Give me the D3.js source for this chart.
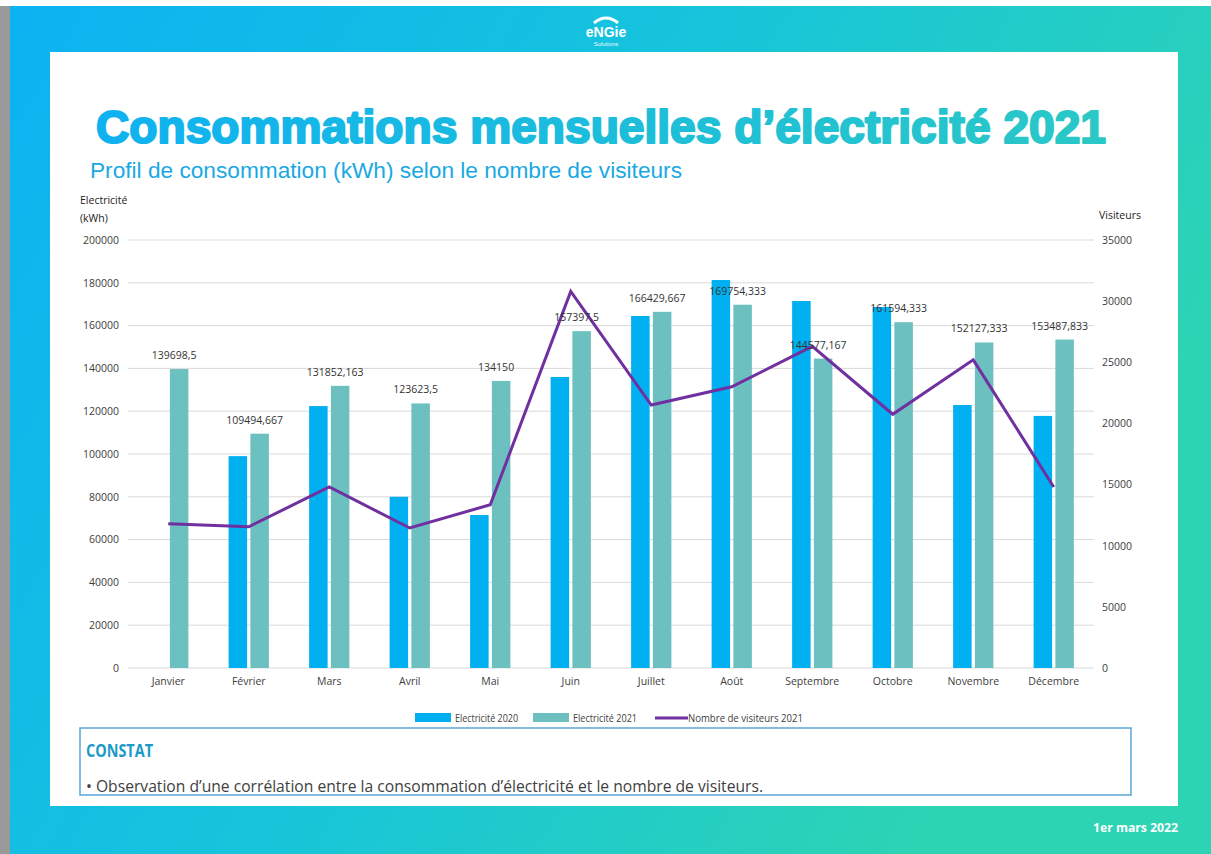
<!DOCTYPE html>
<html>
<head>
<meta charset="utf-8">
<script src="https://cdn.jsdelivr.net/npm/d3@7"></script>
<style>
  body { margin: 0; background: #fff; }
  svg { display: block; }
</style>
</head>
<body>
<script>
// data
var months = ["Janvier", "Février", "Mars", "Avril", "Mai", "Juin", "Juillet", "Août", "Septembre", "Octobre", "Novembre", "Décembre"];
var elec2020 = [null, 99000, 122400, 80000, 71500, 136000, 164500, 181300, 171500, 168700, 122900, 117800];
var elec2021 = [139698.5, 109494.667, 131852.163, 123623.5, 134150, 157397.5, 166429.667, 169754.333, 144577.167, 161594.333, 152127.333, 153487.833];
var labels2021 = ["139698,5", "109494,667", "131852,163", "123623,5", "134150", "157397,5", "166429,667", "169754,333", "144577,167", "161594,333", "152127,333", "153487,833"];
var visiteurs = [11800, 11550, 14800, 11450, 13350, 30800, 21500, 23000, 26300, 20750, 25200, 14800];
var leftTicks = [0, 20000, 40000, 60000, 80000, 100000, 120000, 140000, 160000, 180000, 200000];
var rightTicks = [0, 5000, 10000, 15000, 20000, 25000, 30000, 35000];
var series = ["Electricité 2020", "Electricité 2021", "Nombre de visiteurs 2021"];

var W = 1211, H = 854;
var blue = "#00b0f0", teal = "#6cc0bf", purple = "#7030a0";
var chartFont = "'Open Sans', sans-serif";

var svg = d3.select("body").append("svg").attr("width", W).attr("height", H);
var defs = svg.append("defs");

var bg = defs.append("linearGradient").attr("id", "bg")
  .attr("x1", "0").attr("y1", "0").attr("x2", "1").attr("y2", "0.4");
bg.append("stop").attr("offset", "0").attr("stop-color", "#0cb2f2");
bg.append("stop").attr("offset", "0.5").attr("stop-color", "#16c4dc");
bg.append("stop").attr("offset", "1").attr("stop-color", "#2dd4b3");

var tg = defs.append("linearGradient").attr("id", "titleGrad")
  .attr("x1", "0").attr("y1", "0").attr("x2", "1").attr("y2", "0");
tg.append("stop").attr("offset", "0").attr("stop-color", "#0fb2f0");
tg.append("stop").attr("offset", "1").attr("stop-color", "#2ac8c6");

// frame
svg.append("rect").attr("x", 0).attr("y", 6).attr("width", 10).attr("height", H - 6).attr("fill", "#9a9a9a");
svg.append("rect").attr("x", 10).attr("y", 6).attr("width", W - 10).attr("height", H - 6).attr("fill", "url(#bg)");
svg.append("rect").attr("x", 50).attr("y", 52).attr("width", 1128).attr("height", 754).attr("fill", "#fff");

// logo
var logo = svg.append("g").attr("transform", "translate(606,0)");
logo.append("path").attr("d", "M-12,23 Q0,13 12,23").attr("fill", "none").attr("stroke", "#fff").attr("stroke-width", 3);
logo.append("text").attr("y", 37).attr("text-anchor", "middle").attr("fill", "#fff")
  .style("font", "bold 14px 'Liberation Sans', sans-serif").text("eNGie");
logo.append("text").attr("y", 46).attr("text-anchor", "middle").attr("fill", "#e8f8ff")
  .style("font", "6px 'Liberation Sans', sans-serif").text("Solutions");

// titles
svg.append("text").attr("x", 96).attr("y", 143).attr("fill", "url(#titleGrad)")
  .attr("stroke", "url(#titleGrad)").attr("stroke-width", 2.2).attr("stroke-linejoin", "round")
  .attr("textLength", 1010).attr("lengthAdjust", "spacingAndGlyphs")
  .style("font", "bold 46px 'Liberation Sans', Arial, sans-serif")
  .text("Consommations mensuelles d’électricité 2021");
svg.append("text").attr("x", 90).attr("y", 178).attr("fill", "#19a9e2")
  .attr("textLength", 592).attr("lengthAdjust", "spacingAndGlyphs")
  .style("font", "22px 'Liberation Sans', Arial, sans-serif")
  .text("Profil de consommation (kWh) selon le nombre de visiteurs");

// scales
var x0 = d3.scaleBand().domain(months).range([128, 1094]).paddingInner(0.5).paddingOuter(0.25);
var x1 = d3.scaleBand().domain([0, 1]).range([0, x0.bandwidth()]).paddingInner(0.15);
var y = d3.scaleLinear().domain([0, 200000]).range([668, 240]);
var y2 = d3.scaleLinear().domain([0, 35000]).range([668, 240]);

// grid
svg.append("g").selectAll("line").data(leftTicks).join("line")
  .attr("x1", 128).attr("x2", 1094)
  .attr("y1", function(d) { return y(d); }).attr("y2", function(d) { return y(d); })
  .attr("stroke", "#d9d9d9").attr("stroke-width", 1);

// axes
var axL = svg.append("g").attr("transform", "translate(119,0)")
  .call(d3.axisLeft(y).tickValues(leftTicks).tickSize(0).tickPadding(0).tickFormat(d3.format("d")));
var axR = svg.append("g").attr("transform", "translate(1102,0)")
  .call(d3.axisRight(y2).tickValues(rightTicks).tickSize(0).tickPadding(0).tickFormat(d3.format("d")));
var axB = svg.append("g").attr("transform", "translate(0,676)")
  .call(d3.axisBottom(x0).tickSize(0).tickPadding(0));
[axL, axR, axB].forEach(function(a) {
  a.select(".domain").remove();
  a.selectAll("text").attr("fill", "#404040").style("font", "10.5px " + chartFont);
});
axB.selectAll("text").attr("dy", "0.9em");

svg.append("text").attr("x", 80).attr("y", 204).attr("fill", "#222").style("font", "10.5px " + chartFont).text("Electricité");
svg.append("text").attr("x", 80).attr("y", 222).attr("fill", "#222").style("font", "10.5px " + chartFont).text("(kWh)");
svg.append("text").attr("x", 1099).attr("y", 219).attr("fill", "#222").style("font", "10.5px " + chartFont).text("Visiteurs");

// bars
var groups = svg.append("g").selectAll("g").data(months).join("g")
  .attr("transform", function(d) { return "translate(" + x0(d) + ",0)"; });
groups.filter(function(d, i) { return elec2020[i] != null; }).append("rect")
  .attr("x", x1(0)).attr("width", x1.bandwidth())
  .attr("y", function(d) { return y(elec2020[months.indexOf(d)]); })
  .attr("height", function(d) { return 668 - y(elec2020[months.indexOf(d)]); })
  .attr("fill", blue);
groups.append("rect")
  .attr("x", x1(1)).attr("width", x1.bandwidth())
  .attr("y", function(d, i) { return y(elec2021[i]); })
  .attr("height", function(d, i) { return 668 - y(elec2021[i]); })
  .attr("fill", teal);

// line
var line = d3.line()
  .x(function(d, i) { return x0(months[i]) + x0.bandwidth() / 2; })
  .y(function(d) { return y2(d); });
svg.append("path").datum(visiteurs).attr("d", line)
  .attr("fill", "none").attr("stroke", purple).attr("stroke-width", 3).attr("stroke-linejoin", "miter");

// data labels
svg.append("g").selectAll("text").data(labels2021).join("text")
  .attr("x", function(d, i) { return x0(months[i]) + x1(1) + x1.bandwidth() / 2 - 5; })
  .attr("y", function(d, i) { return y(elec2021[i]) - 10; })
  .attr("text-anchor", "middle").attr("fill", "#333")
  .style("font", "10.5px " + chartFont).text(function(d) { return d; });

// legend
var leg = svg.append("g").attr("transform", "translate(0,718)");
leg.append("rect").attr("x", 415).attr("y", -5).attr("width", 36).attr("height", 9).attr("fill", blue);
leg.append("text").attr("x", 455).attr("y", 4).attr("fill", "#404040")
  .attr("textLength", 63).attr("lengthAdjust", "spacingAndGlyphs")
  .style("font", "10.5px " + chartFont).text(series[0]);
leg.append("rect").attr("x", 533).attr("y", -5).attr("width", 36).attr("height", 9).attr("fill", teal);
leg.append("text").attr("x", 573).attr("y", 4).attr("fill", "#404040")
  .attr("textLength", 64).attr("lengthAdjust", "spacingAndGlyphs")
  .style("font", "10.5px " + chartFont).text(series[1]);
leg.append("line").attr("x1", 655).attr("x2", 688).attr("y1", 0).attr("y2", 0).attr("stroke", purple).attr("stroke-width", 3);
leg.append("text").attr("x", 688).attr("y", 4).attr("fill", "#404040")
  .attr("textLength", 115).attr("lengthAdjust", "spacingAndGlyphs")
  .style("font", "10.5px " + chartFont).text(series[2]);

// constat box
svg.append("rect").attr("x", 80).attr("y", 728).attr("width", 1051).attr("height", 67)
  .attr("fill", "#fff").attr("stroke", "#5aa6d6").attr("stroke-width", 1.5);
svg.append("text").attr("x", 86).attr("y", 757).attr("fill", "#1a9ac8")
  .attr("textLength", 67).attr("lengthAdjust", "spacingAndGlyphs")
  .style("font", "bold 18px " + chartFont).text("CONSTAT");
svg.append("text").attr("x", 86).attr("y", 792).attr("fill", "#404040")
  .attr("textLength", 677).attr("lengthAdjust", "spacingAndGlyphs")
  .style("font", "16px " + chartFont)
  .text("•   Observation d’une corrélation entre la consommation d’électricité et le nombre de visiteurs.");

// date
svg.append("text").attr("x", 1178).attr("y", 832).attr("text-anchor", "end").attr("fill", "#fff")
  .attr("textLength", 85).attr("lengthAdjust", "spacingAndGlyphs")
  .style("font", "bold 13px " + chartFont).text("1er mars 2022");
</script>
</body>
</html>
